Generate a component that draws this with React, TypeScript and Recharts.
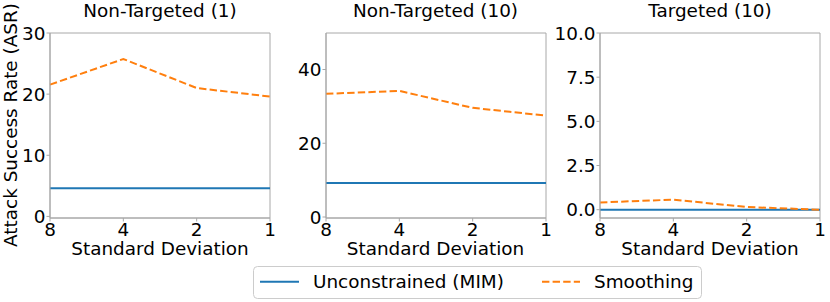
import { LineChart, Line, XAxis, YAxis, ReferenceArea } from 'recharts'

const stdDevs = ['8', '4', '2', '1']

const titles = ['Non-Targeted (1)', 'Non-Targeted (10)', 'Targeted (10)']

const mimNT1 = [4.6, 4.6, 4.6, 4.6]
const smoothNT1 = [21.55, 25.75, 21.0, 19.6]
const mimNT10 = [9.2, 9.2, 9.2, 9.2]
const smoothNT10 = [33.4, 34.2, 29.6, 27.5]
const mimT10 = [0, 0, 0, 0]
const smoothT10 = [0.41, 0.57, 0.15, 0.0]

const ticksNT1 = [0, 10, 20, 30]
const ticksNT10 = [0, 20, 40]
const ticksT10 = [0, 2.5, 5, 7.5, 10]

const BLUE = '#1f77b4'
const ORANGE = '#ff7f0e'
const SPINE = '#a8a8a8'
const FONT = '"DejaVu Sans", sans-serif'
const FS = 18.4

const build = (mim: number[], smooth: number[]) =>
  stdDevs.map((sd, i) => ({ sd, mim: mim[i], smooth: smooth[i] }))

interface PanelProps {
  left: number
  data: { sd: string; mim: number; smooth: number }[]
  domain: [number, number]
  ticks: number[]
  fmt?: (v: number) => string
}

function Panel({ left, data, domain, ticks, fmt }: PanelProps) {
  return (
    <div style={{ position: 'absolute', left, top: 0 }}>
      <LineChart width={280} height={302} data={data} margin={{ top: 33, right: 10, bottom: 54, left: 0 }}>
        <XAxis
          dataKey="sd"
          height={30}
          tickSize={3.5}
          tickMargin={1.5}
          axisLine={{ stroke: SPINE }}
          tickLine={{ stroke: SPINE }}
          tick={{ fill: '#000', fontSize: FS, fontFamily: FONT }}
          interval={0}
        />
        <YAxis
          width={50}
          type="number"
          domain={domain}
          ticks={ticks}
          allowDataOverflow
          tickFormatter={fmt}
          tickSize={3.5}
          tickMargin={1}
          axisLine={{ stroke: SPINE }}
          tickLine={{ stroke: SPINE }}
          tick={{ fill: '#000', fontSize: FS, fontFamily: FONT }}
        />
        <ReferenceArea x1="8" x2="1" y1={domain[0]} y2={domain[1]} fill="none" stroke={SPINE} strokeWidth={1} ifOverflow="visible" />
        <Line dataKey="mim" stroke={BLUE} strokeWidth={2} dot={false} isAnimationActive={false} />
        <Line dataKey="smooth" stroke={ORANGE} strokeWidth={2} strokeDasharray="7.4 3.2" dot={false} isAnimationActive={false} />
      </LineChart>
    </div>
  )
}

export default function App() {
  const centers = [160, 435.5, 710]
  return (
    <div style={{ position: 'absolute', left: 0, top: 0, width: 830, height: 302, background: '#fff', fontFamily: FONT }}>
      <Panel left={0} data={build(mimNT1, smoothNT1)} domain={[-0.26, 30]} ticks={ticksNT1} />
      <Panel left={275.5} data={build(mimNT10, smoothNT10)} domain={[-0.27, 49.9]} ticks={ticksNT10} />
      <Panel left={550} data={build(mimT10, smoothT10)} domain={[-0.47, 10]} ticks={ticksT10} fmt={(v) => v.toFixed(1)} />
      <svg width={830} height={302} style={{ position: 'absolute', left: 0, top: 0, pointerEvents: 'none' }}>
        {titles.map((t, i) => (
          <text key={t} x={centers[i]} y={17.3} textAnchor="middle" fontSize={FS} fontFamily={FONT} fill="#000">{t}</text>
        ))}
        {centers.map((c, i) => (
          <text key={i} x={c} y={255} textAnchor="middle" fontSize={FS} fontFamily={FONT} fill="#000">Standard Deviation</text>
        ))}
        <text x={17} y={125} transform="rotate(-90 17 125)" textAnchor="middle" fontSize={FS} fontFamily={FONT} fill="#000">
          Attack Success Rate (ASR)
        </text>
        <rect x={253.5} y={266.5} width={448} height={32} rx={4} fill="#fff" stroke="#cccccc" />
        <line x1={260} x2={299} y1={281.7} y2={281.7} stroke={BLUE} strokeWidth={2} />
        <text x={313} y={287.5} fontSize={FS} fontFamily={FONT} fill="#000">Unconstrained (MIM)</text>
        <line x1={542} x2={580} y1={281.7} y2={281.7} stroke={ORANGE} strokeWidth={2} strokeDasharray="7.4 3.2" />
        <text x={594} y={287.5} fontSize={FS} fontFamily={FONT} fill="#000">Smoothing</text>
      </svg>
    </div>
  )
}
